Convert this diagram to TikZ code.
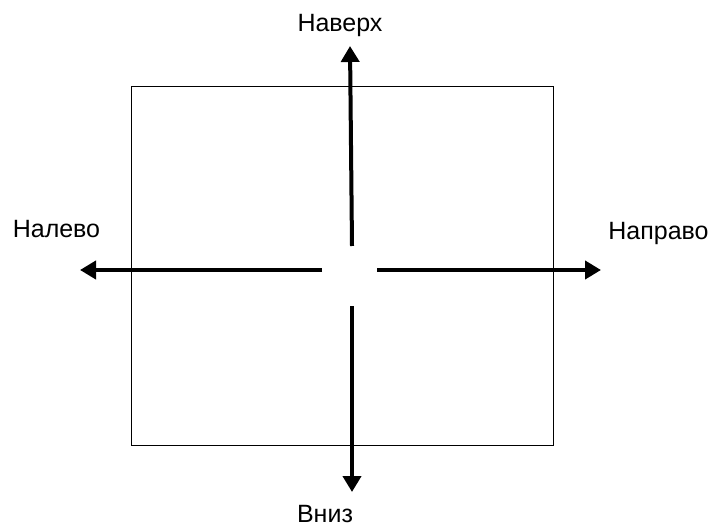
\documentclass[tikz,border=0pt]{standalone}
\usepackage{fontspec}
\setmainfont{Liberation Sans}
\usetikzlibrary{arrows.meta}
\begin{document}
\begin{tikzpicture}[x=1pt,y=-1pt,
  dirarrow/.style={line width=4pt,-{Triangle[length=16pt,width=18pt]}},
  lbl/.style={font=\fontsize{25}{29}\selectfont,inner sep=0pt,anchor=base}]
\useasboundingbox (0,0) rectangle (714,526);
\draw[line width=1pt] (131,87) rectangle (553,445);
\coordinate (ub) at (352,246);
\coordinate (ut) at (350,46);
\coordinate (lb) at (322,270);
\coordinate (lt) at (80,270);
\coordinate (rb) at (377,270);
\coordinate (rt) at (601,270);
\coordinate (db) at (352,306);
\coordinate (dt) at (352,492);
\draw[dirarrow] (ub) -- (ut);
\draw[dirarrow] (lb) -- (lt);
\draw[dirarrow] (rb) -- (rt);
\draw[dirarrow] (db) -- (dt);
\node[lbl] (up) at (340,32) {Наверх};
\node[lbl] (left) at (56.5,238) {Налево};
\node[lbl] (right) at (658.5,240) {Направо};
\node[lbl] (down) at (325,522) {Вниз};
\end{tikzpicture}
\end{document}
